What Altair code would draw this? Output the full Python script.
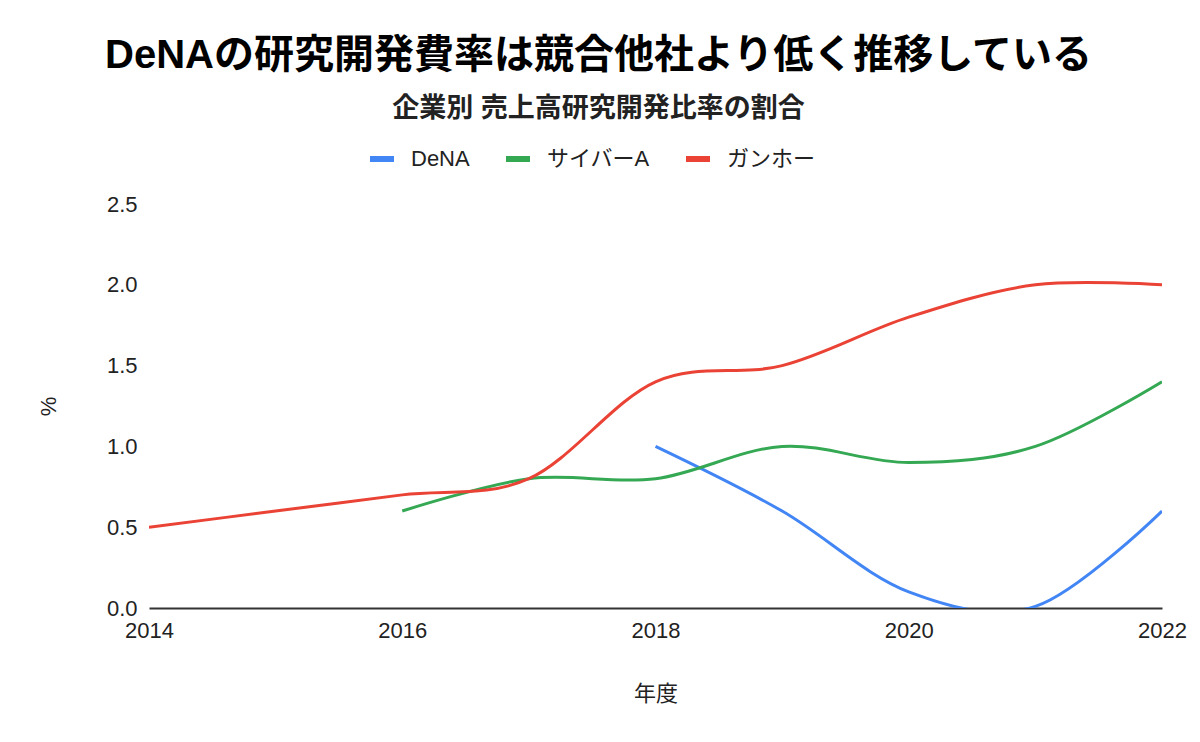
import altair as alt
import pandas as pd

years = [2014, 2015, 2016, 2017, 2018, 2019, 2020, 2021, 2022]
series_names = ["DeNA", "サイバーA", "ガンホー"]
dena = [None, None, None, None, 1.0, 0.6, 0.1, 0.01, 0.6]
cyber = [None, None, 0.6, 0.8, 0.8, 1.0, 0.9, 1.0, 1.4]
gungho = [0.5, 0.6, 0.7, 0.8, 1.4, 1.5, 1.8, 2.0, 2.0]
colors = ["#4285F4", "#34A853", "#EA4335"]

rows = []
for name, vals in zip(series_names, [dena, cyber, gungho]):
    for y, v in zip(years, vals):
        if v is not None:
            rows.append({"年度": y, "値": v, "企業": name})
df = pd.DataFrame(rows)

FONT = "Liberation Sans, Noto Sans CJK JP, sans-serif"

chart = alt.Chart(df).mark_line(
    interpolate="cardinal", strokeWidth=3, clip=True
).encode(
    x=alt.X("年度:Q",
            scale=alt.Scale(domain=[2014, 2022], nice=False, zero=False),
            axis=alt.Axis(values=[2014, 2016, 2018, 2020, 2022], format="d",
                          grid=False, ticks=False, domainColor="#333333",
                          domainWidth=2, labelFontSize=22, labelColor="#222222",
                          labelFont=FONT, labelPadding=12, labelFlush=False,
                          titleFont=FONT,
                          titleFontSize=22, titleFontWeight="normal",
                          titleColor="#222222", titlePadding=42)),
    y=alt.Y("値:Q",
            scale=alt.Scale(domain=[0, 2.5], nice=False),
            axis=alt.Axis(values=[0, 0.5, 1.0, 1.5, 2.0, 2.5], format=".1f",
                          grid=False, ticks=False, domain=False,
                          labelFontSize=22, labelColor="#222222",
                          labelFont=FONT, labelPadding=12, title="%",
                          titleFont=FONT, titleFontSize=22,
                          titleFontWeight="normal", titleColor="#222222",
                          titlePadding=46)),
    color=alt.Color("企業:N",
                    scale=alt.Scale(domain=series_names, range=colors),
                    legend=alt.Legend(orient="none", legendX=218, legendY=-60,
                                      direction="horizontal", title=None,
                                      symbolType="stroke", symbolSize=576,
                                      symbolStrokeWidth=6, labelFontSize=22,
                                      labelFont=FONT, labelColor="#222222",
                                      labelOffset=14, columnPadding=24)),
).properties(
    width=1013,
    height=404,
    title=alt.TitleParams(
        text="DeNAの研究開発費率は競合他社より低く推移している",
        subtitle="企業別 売上高研究開発比率の割合",
        font=FONT, fontSize=40, fontWeight="bold", color="#000000",
        subtitleFont=FONT, subtitleFontSize=27, subtitleFontWeight="bold",
        subtitleColor="#222222", subtitlePadding=20,
        anchor="middle", dx=-57, offset=22,
    ),
    autosize=alt.AutoSizeParams(type="none"),
    padding={"left": 141, "top": 196, "right": 30, "bottom": 120},
).configure_view(stroke=None)

chart.save("out.html", embed_options={"renderer": "svg", "actions": False})
